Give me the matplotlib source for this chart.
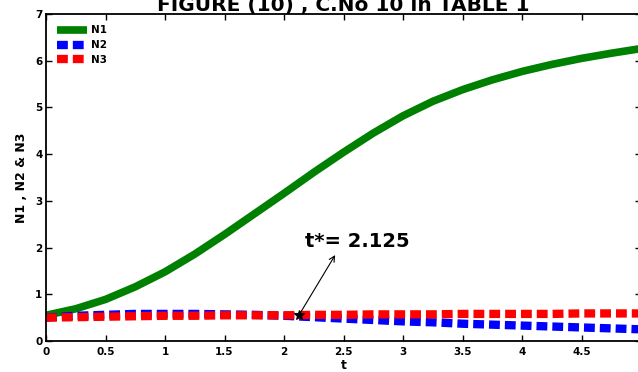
import numpy as np
import matplotlib
matplotlib.use("Agg")
import matplotlib.pyplot as plt

plt.rcParams['font.family'] = ['DejaVu Sans']
plt.rcParams['font.weight'] = 'bold'

# time grid and solution curves
t = [0.0, 0.25, 0.5, 0.75, 1.0, 1.25, 1.5, 1.75, 2.0, 2.25, 2.5,
     2.75, 3.0, 3.25, 3.5, 3.75, 4.0, 4.25, 4.5, 4.75, 5.0]
n1 = [0.55, 0.69, 0.89, 1.16, 1.48, 1.86, 2.28, 2.72, 3.16, 3.61, 4.04,
      4.45, 4.82, 5.13, 5.38, 5.59, 5.77, 5.92, 6.05, 6.16, 6.26]
n2 = [0.50, 0.54, 0.56, 0.58, 0.58, 0.58, 0.57, 0.56, 0.54, 0.51, 0.48,
      0.45, 0.42, 0.40, 0.37, 0.35, 0.33, 0.31, 0.29, 0.27, 0.25]
n3 = [0.50, 0.51, 0.52, 0.53, 0.54, 0.54, 0.55, 0.55, 0.55, 0.56, 0.56,
      0.57, 0.57, 0.57, 0.58, 0.58, 0.58, 0.58, 0.59, 0.59, 0.59]

t_star = 2.125
n_star = 0.55
arrow_tip = (2.43, 1.84)

xticks = [0, 0.5, 1, 1.5, 2, 2.5, 3, 3.5, 4, 4.5, 5]
xticklabels = ['0', '0.5', '1', '1.5', '2', '2.5', '3', '3.5', '4', '4.5', '5']
yticks = [0, 1, 2, 3, 4, 5, 6, 7]

fig = plt.figure(figsize=(6.38, 3.72), dpi=100)
ax = fig.add_axes([46 / 638, 31 / 372, 595 / 638, 327 / 372])

dash = (0, (1.3, 0.6))
ax.plot(t, n1, color='#008000', lw=5.5, label='N1',
        solid_capstyle='butt', solid_joinstyle='round')
ax.plot(t, n2, color='#0000ff', lw=6, ls=dash, label='N2')
ax.plot(t, n3, color='#ff0000', lw=6, ls=dash, label='N3')

ax.plot([t_star], [n_star], marker='*', color='k', ms=7, mew=0.8, ls='none')
ax.annotate('', xy=arrow_tip, xytext=(t_star, n_star),
            arrowprops=dict(arrowstyle='->', color='k', lw=0.8,
                            shrinkA=0, shrinkB=0))
ax.text(2.18, 2.12, 't*= 2.125', fontsize=14, fontweight='bold',
        va='center', ha='left')

ax.set_xlim(0, 5)
ax.set_ylim(0, 7)
ax.set_xticks(xticks)
ax.set_xticklabels(xticklabels)
ax.set_yticks(yticks)
ax.tick_params(direction='in', length=4, width=1, top=True, right=True,
               labelsize=7.5)
ax.tick_params(axis='x', pad=4)
ax.tick_params(axis='y', pad=2.5)
for s in ax.spines.values():
    s.set_linewidth(1.3)

ax.set_xlabel('t', fontsize=9, fontweight='bold', labelpad=1.5)
ax.set_ylabel('N1 , N2 & N3', fontsize=9, fontweight='bold', labelpad=5)
ax.set_title('FIGURE (10) , C.No 10 in TABLE 1', fontsize=14.5,
             fontweight='bold', pad=2)

ax.legend(loc='upper left', frameon=False, fontsize=7.5, handlelength=2.8,
          handletextpad=0.4, labelspacing=0.45, borderaxespad=0.6,
          borderpad=0.5)

fig.savefig('out.png', dpi=100)
